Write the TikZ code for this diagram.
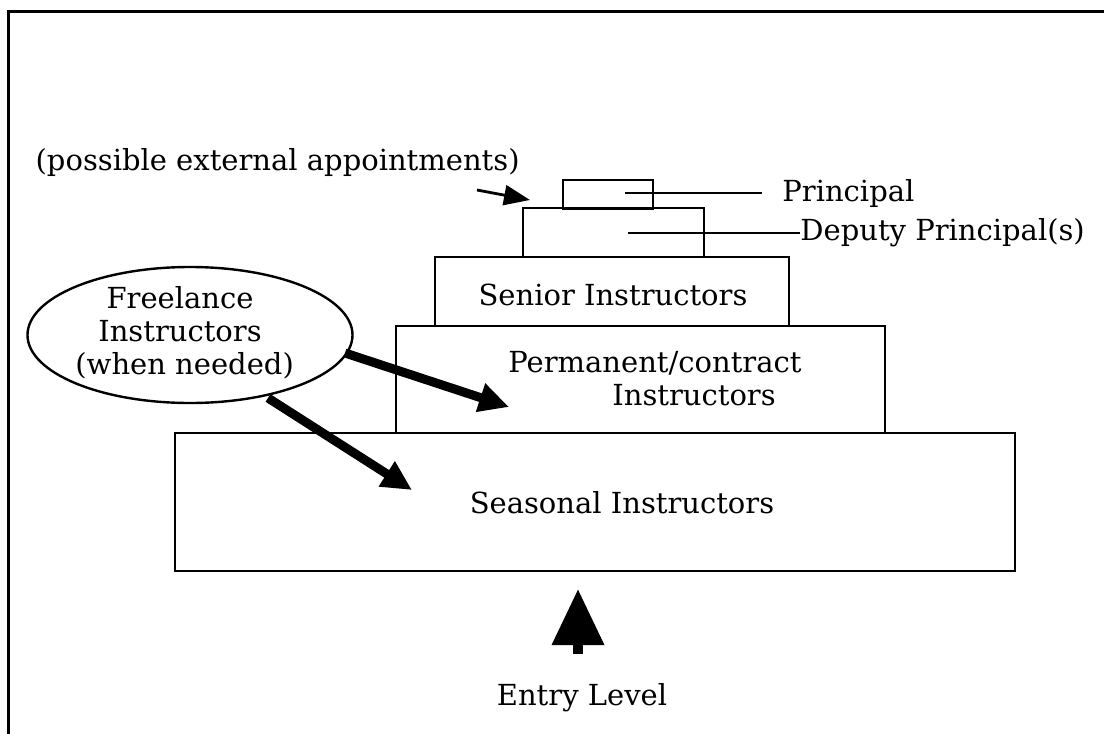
\documentclass[tikz,border=0pt]{standalone}
\usepackage{fontspec}
\setmainfont{DejaVu Serif}
\usetikzlibrary{arrows.meta,shapes.geometric}
\begin{document}
\begin{tikzpicture}[x=0.5pt,y=-0.5pt,
  every node/.style={font=\fontsize{14.5}{16.5}\selectfont},
  level/.style={draw,line width=1.25pt,inner sep=0pt,outer sep=0pt,anchor=north west},
  lbl/.style={inner sep=0pt},
  leader/.style={line width=1.2pt},
  bigarrow/.style={line width=4.5pt,-{Triangle[length=15pt,width=14pt]}},
  smallarrow/.style={line width=1.4pt,-{Triangle[length=13pt,width=10pt]}}]
\useasboundingbox (0,0) rectangle (1104,734);
% frame
\draw[line width=1.5pt] (1104,11) -- (8,11) -- (8,734);
% levels
\node[level,minimum width=45pt,minimum height=14.5pt] (principal) at (563,180) {};
\node[level,minimum width=90.5pt,minimum height=24.5pt] (deputy) at (523,208) {};
\node[level,minimum width=177pt,minimum height=34.5pt] (senior) at (435,257) {};
\node[level,minimum width=244.5pt,minimum height=53.5pt] (permanent) at (396,326) {};
\node[level,minimum width=420pt,minimum height=69pt] (seasonal) at (175,433) {};
% texts
\node[lbl] (tsenior) at (613,295) {Senior Instructors};
\node[lbl,anchor=west] (tperm1) at (508,363) {Permanent/contract};
\node[lbl,anchor=west] (tperm2) at (612,395) {Instructors};
\node[lbl] (tseasonal) at (622,503) {Seasonal Instructors};
\node[lbl,anchor=west] (tprincipal) at (782,193) {Principal};
\node[lbl,anchor=west] (tdeputy) at (800,233) {Deputy Principal(s)};
\node[lbl,anchor=east] (tpossible) at (520,162) {(possible external appointments)};
\node[lbl] (tentry) at (582,698) {Entry Level};
% freelance ellipse
\node[draw,ellipse,line width=1.2pt,minimum width=162.5pt,minimum height=68pt,inner sep=0pt] (free) at (190,335) {};
\node[lbl,align=center] (tfree) at (180,333) {Freelance\\Instructors\\\ (when needed)};
% leaders
\coordinate (pl) at (625,193);
\coordinate (pr) at (762,193);
\coordinate (dl) at (628,233);
\draw[leader] (pl) -- (pr);
\draw[leader] (dl) -- (tdeputy.west);
% arrows
\coordinate (a1s) at (345,353);
\coordinate (a1e) at (509,407);
\coordinate (a2s) at (268,398);
\coordinate (a2e) at (412,490);
\draw[bigarrow] (a1s) -- (a1e);
\draw[bigarrow] (a2s) -- (a2e);
\coordinate (ps) at (477,190);
\coordinate (pe) at (530,200);
\draw[smallarrow] (ps) -- (pe);
\coordinate (es) at (578,654);
\coordinate (et) at (578,589);
\draw[line width=5pt,-{Triangle[length=28pt,width=25pt]}] (es) -- (et);
\end{tikzpicture}
\end{document}
